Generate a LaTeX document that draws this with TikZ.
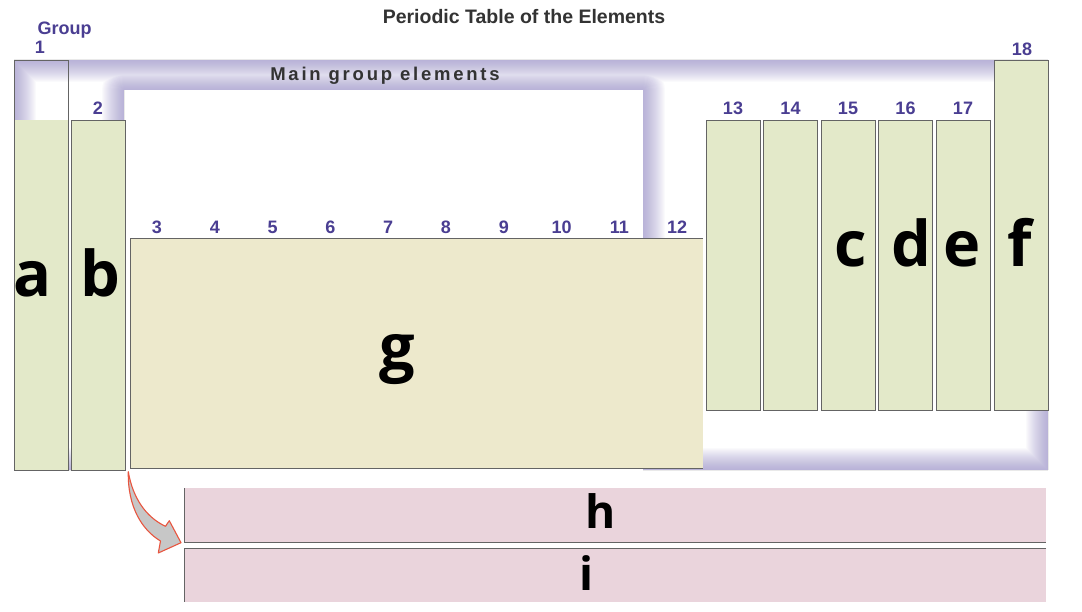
\documentclass[tikz,border=0pt]{standalone}
\usepackage{fontspec}
\setmainfont{Liberation Sans}
\newfontfamily\letterfont{Open Sans}
\definecolor{grpgreen}{RGB}{227,233,201}
\definecolor{trbeige}{RGB}{237,233,204}
\definecolor{lnpink}{RGB}{234,212,220}
\definecolor{grppurple}{RGB}{74,62,146}
\definecolor{glowblue}{RGB}{140,130,195}
\definecolor{edgegray}{RGB}{100,100,100}
\tikzset{
    colbox/.style={fill=grpgreen, draw=edgegray, line width=0.9pt},
    grpnum/.style={text=grppurple, font=\fontsize{18}{18}\selectfont\bfseries, anchor=base},
    bigletter/.style={font=\letterfont\fontsize{63}{63}\selectfont\bfseries, anchor=base, inner sep=0pt},
    smallletter/.style={font=\letterfont\fontsize{46}{46}\selectfont\bfseries, anchor=base, inner sep=0pt}
}
\def\mgpath{(14,60) -- (1048,60) -- (1048,470) -- (643,470) -- (643,90) -- (124,90) -- (124,470) -- (14,470) -- cycle}
\begin{document}
\begin{tikzpicture}[x=1pt, y=-1pt]
    \useasboundingbox[fill=white] (0,0) rectangle (1082,612);
    % glow of the main group frame
    \begin{scope}
        \clip \mgpath;
        \foreach \w in {2,4,...,44}
            \draw[glowblue, line width=\w pt, opacity=0.035, line join=round] \mgpath;
    \end{scope}
    \node[font=\fontsize{19.5}{19.5}\selectfont\bfseries, text=black!80, anchor=base] (title) at (524,24) {Periodic Table of the Elements};
    \node[font=\fontsize{18.5}{18.5}\selectfont\bfseries\addfontfeature{LetterSpace=15}, text=black!80, anchor=base] (mainlbl) at (385,81) {Main group elements};
    % group 1 and 2
    \draw[edgegray, line width=0.9pt] (14,60) rectangle (68,470);
    \fill[grpgreen] (14.5,120) rectangle (67.5,469.5);
    \draw[colbox] (71,120) rectangle (125,470);
    \node[grpnum, anchor=base west] (grp) at (34,35) {Group};
    \node[grpnum] (n1) at (40,54) {1};
    \node[grpnum] (n2) at (98,115) {2};
    % transition block
    \fill[trbeige] (130,238) rectangle (703,468);
    \draw[edgegray, line width=0.9pt] (703,238) -- (130,238) -- (130,468) -- (703,468);
    \foreach \n [count=\i from 0] in {3,...,12}
        \node[grpnum] (n\n) at ({157+57.8*\i},234) {\n};
    % groups 13 to 17
    \foreach \n [count=\i from 0] in {13,...,17}{
        \draw[colbox] ({706+57.5*\i},120) rectangle ({760+57.5*\i},410);
        \node[grpnum] (n\n) at ({733+57.5*\i},115) {\n};
    }
    \draw[colbox] (994,60) rectangle (1048,410);
    \node[grpnum] (n18) at (1022,56) {18};
    % lanthanides / actinides
    \fill[lnpink] (184,488) rectangle (1046,542);
    \fill[lnpink] (184,548) rectangle (1046,602);
    \draw[edgegray, line width=0.9pt] (184,488) -- (184,542) -- (1046,542);
    \draw[edgegray, line width=0.9pt] (1046,548) -- (184,548) -- (184,602);
    % arrow
    \draw[fill=black!22, draw={rgb,255:red,232;green,85;blue,63}, line width=1.1pt, line join=round]
        (128.3,471.7) .. controls (127.5,506.7) and (142,530) .. (160.5,541)
        -- (158.3,553) -- (181,542.7) -- (169.3,520.7) -- (165.5,526.3)
        .. controls (145,516.7) and (132.5,496.7) .. (128.3,471.7) -- cycle;
    % letters
    \node[bigletter] (la) at (33,297) {a};
    \node[bigletter] (lb) at (100,297) {b};
    \node[bigletter] (lc) at (851,267) {c};
    \node[bigletter] (ld) at (911,267) {d};
    \node[bigletter] (le) at (962,267) {e};
    \node[bigletter] (lf) at (1020,267) {f};
    \node[bigletter] (lg) at (397,370) {g};
    \node[smallletter] (lh) at (601,528) {h};
    \node[smallletter] (li) at (587,590) {i};
\end{tikzpicture}
\end{document}
